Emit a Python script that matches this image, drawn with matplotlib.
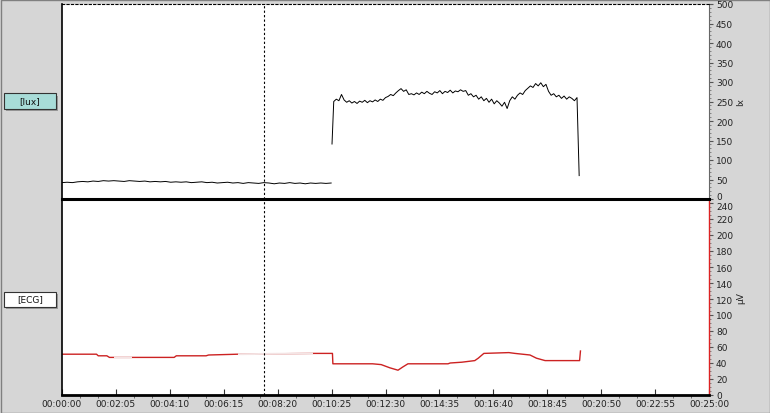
import numpy as np
import matplotlib
matplotlib.use("Agg")
import matplotlib.pyplot as plt
from matplotlib.ticker import MultipleLocator, FuncFormatter
from matplotlib.patches import Rectangle
import matplotlib.transforms as mtransforms

# ---------------- data ----------------
# Light channel, segment 1 (sampled every 12 s from 0 s)
flux1_step = 12
flux1_vals = [42, 43, 42, 44, 45, 44, 46, 45, 47, 46,
              47, 46, 45, 47, 46, 45, 46, 44, 45, 44,
              45, 43, 44, 43, 44, 42, 43, 44, 42, 43,
              41, 42, 43, 41, 42, 40, 42, 41, 40, 42,
              41, 39, 41, 40, 42, 40, 41, 39, 41, 40,
              41, 40, 41]
# Light channel, segment 2 (sampled every 6 s from 630 s)
flux2_start_t, flux2_start_v = 626, 141
flux2_step, flux2_t0 = 6, 630
flux2_vals = [250, 256, 252, 268, 254, 248, 252, 246, 250, 245,
              251, 248, 253, 247, 252, 249, 254, 250, 256, 253,
              260, 263, 268, 265, 272, 278, 283, 276, 280, 268,
              270, 267, 272, 268, 274, 270, 276, 271, 268, 275,
              272, 278, 270, 276, 273, 279, 272, 277, 275, 280,
              276, 278, 266, 270, 262, 266, 256, 262, 252, 258,
              248, 256, 244, 252, 246, 238, 248, 232, 252, 262,
              256, 266, 272, 268, 278, 284, 290, 286, 296, 290,
              298, 288, 294, 276, 266, 270, 262, 266, 258, 264,
              256, 262, 258, 252, 260]
flux2_end_t, flux2_end_v = 1199, 60

# ECG channel
ecg_t = [0, 80, 84, 104, 110, 160, 260, 265, 334, 340, 408, 582, 627, 628,
         720, 740, 760, 779, 790, 802, 895, 900, 927, 957, 965, 978, 1036,
         1050, 1085, 1100, 1120, 1200, 1202]
ecg_v = [51, 51, 49, 49, 47, 47, 47, 49, 49, 50, 51, 52, 52, 39,
         39, 38, 34, 31, 35, 39, 39, 40, 41, 43, 46, 52, 53,
         52, 50, 46, 43, 43, 55]
ecg_faint = [(120, 162), (408, 582)]

cursor_t = 468
xtick_step = 125
x_max = 1500
top_label, bottom_label = "[lux]", "[ECG]"
top_unit, bottom_unit = "lx", "μV"

# ---------------- figure ----------------
W, H = 770, 414
bg = "#d6d6d6"
fig = plt.figure(figsize=(W / 100, H / 100), dpi=100, facecolor=bg)

L, R = 62, 709
ax1 = fig.add_axes([L / W, (H - 200) / H, (R - L) / W, 195 / H])
ax2 = fig.add_axes([L / W, (H - 396) / H, (R - L) / W, 196 / H], sharex=ax1)
ax1.set_zorder(3)
ax2.set_zorder(1)

fs = 6.5
tick_col = "#222222"

# --- top axes
t1 = np.arange(len(flux1_vals)) * flux1_step
ax1.plot(t1, flux1_vals, color="black", lw=0.7)
t2 = np.concatenate([[flux2_start_t], flux2_t0 + flux2_step * np.arange(len(flux2_vals)), [flux2_end_t]])
v2 = np.concatenate([[flux2_start_v], flux2_vals, [flux2_end_v]])
ax1.plot(t2, v2, color="black", lw=0.7)
ax1.set_ylim(0, 500)
ax1.set_xlim(0, x_max)
ax1.yaxis.tick_right()
ax1.yaxis.set_major_locator(MultipleLocator(50))
ax1.yaxis.set_minor_locator(MultipleLocator(10))
ax1.tick_params(axis="y", which="major", direction="out", length=3, labelsize=fs,
                colors="#555555", labelcolor=tick_col, pad=2)
ax1.tick_params(axis="y", which="minor", direction="out", length=1.5, colors="#777777")
ax1.tick_params(axis="x", which="both", bottom=False, labelbottom=False)
ax1.spines["top"].set_linestyle((0, (2, 2)))
ax1.spines["top"].set_linewidth(0.8)
ax1.spines["left"].set_linewidth(1.2)
ax1.spines["right"].set_color("#666666")
ax1.spines["right"].set_linewidth(0.8)
ax1.spines["bottom"].set_linewidth(2.2)
ax1.yaxis.set_label_position("right")
ax1.set_ylabel(top_unit, fontsize=fs, rotation=90, labelpad=2, color=tick_col)
ax1.axvline(cursor_t, color="black", lw=0.8, ls=(0, (2, 2)))

# --- bottom axes
ax2.plot(ecg_t, ecg_v, color="#cc2222", lw=1.0)
for a, b in ecg_faint:
    ln, = ax2.plot(ecg_t, ecg_v, color="#f4e4e4", lw=1.4)
    clip = Rectangle((a, -10), b - a, 300, transform=ax2.transData)
    ln.set_clip_path(clip)
ax2.set_ylim(0, 245)
ax2.yaxis.tick_right()
ax2.yaxis.set_major_locator(MultipleLocator(20))
ax2.yaxis.set_minor_locator(MultipleLocator(5))
ax2.tick_params(axis="y", which="major", direction="out", length=3, labelsize=fs,
                colors="#555555", labelcolor=tick_col, pad=2)
ax2.tick_params(axis="y", which="minor", direction="out", length=1.5, colors="#777777")
ax2.spines["top"].set_visible(False)
ax2.spines["left"].set_linewidth(1.2)
ax2.spines["right"].set_color("#dd2222")
ax2.spines["right"].set_linewidth(1.0)
ax2.spines["bottom"].set_linewidth(2.0)
ax2.yaxis.set_label_position("right")
ax2.set_ylabel(bottom_unit, fontsize=fs, rotation=90, labelpad=2, color=tick_col)
ax2.axvline(cursor_t, color="black", lw=0.8, ls=(0, (2, 2)))

ax2.xaxis.set_major_locator(MultipleLocator(xtick_step))
ax2.xaxis.set_minor_locator(MultipleLocator(xtick_step / 3))


def hms(x, pos):
    s = int(round(x))
    return f"{s // 3600:02d}:{(s % 3600) // 60:02d}:{s % 60:02d}"


ax2.xaxis.set_major_formatter(FuncFormatter(hms))
ax2.tick_params(axis="x", which="major", direction="in", length=4, labelsize=fs,
                color="#333333", labelcolor=tick_col, pad=3)
ax2.tick_params(axis="x", which="minor", direction="out", length=2, color="#555555")
ax2.set_xlim(0, x_max)

# nudge the two labels that meet at the panel join apart
fig.canvas.draw()
up = mtransforms.ScaledTranslation(0, 4 / 100, fig.dpi_scale_trans)
for lab in ax1.get_yticklabels():
    if lab.get_text() == "0":
        lab.set_transform(lab.get_transform() + up)
down = mtransforms.ScaledTranslation(0, -3 / 100, fig.dpi_scale_trans)
for lab in ax2.get_yticklabels():
    if lab.get_text() == "240":
        lab.set_transform(lab.get_transform() + down)

# --- channel label boxes
def label_box(text, y_center, face):
    x0, w, h = 4, 52, 15
    y0 = H - y_center - h / 2
    fig.patches.append(Rectangle(((x0 + 2) / W, (y0 - 2) / H), w / W, h / H,
                                 transform=fig.transFigure, facecolor="#9a9a9a",
                                 edgecolor="none", zorder=1))
    fig.patches.append(Rectangle((x0 / W, y0 / H), w / W, h / H,
                                 transform=fig.transFigure, facecolor=face,
                                 edgecolor="#333333", lw=0.8, zorder=2))
    fig.text((x0 + w / 2) / W, (H - y_center) / H, text, ha="center", va="center",
             fontsize=fs, color="#111111", zorder=3)


label_box(top_label, 102, "#a8dcd8")
label_box(bottom_label, 300, "#ffffff")

# outer border
fig.patches.append(Rectangle((0.5 / W, 0.5 / H), (W - 1) / W, (H - 1) / H,
                             transform=fig.transFigure, facecolor="none",
                             edgecolor="#808080", lw=1.0))

fig.savefig("out.png", dpi=100, facecolor=bg)
